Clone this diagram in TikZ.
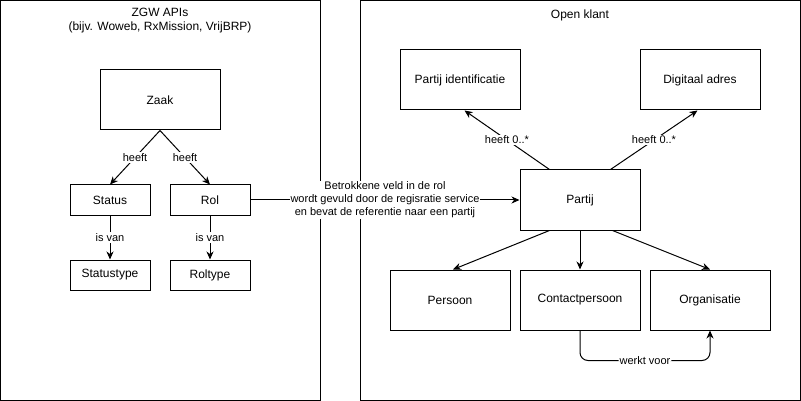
\documentclass[tikz,border=0pt]{standalone}
\usepackage{fontspec}
\setmainfont{Liberation Sans}
\usetikzlibrary{arrows, arrows.meta, positioning}
\tikzstyle{frameNode} = [rectangle, draw=black, line width=1pt, minimum width=320pt, minimum height=400pt, inner sep=0pt]
\tikzstyle{recNode} = [rectangle, minimum width=120pt, minimum height=60pt, text centered, draw=black, line width=1pt, inner sep=0pt, font=\fontsize{12}{14}\selectfont]
\tikzstyle{recNodeS} = [recNode, minimum width=80pt, minimum height=30pt]
\tikzstyle{titleNode} = [align=center, inner sep=0pt, font=\fontsize{12}{14}\selectfont]
\tikzstyle{lblNode} = [fill=white, inner sep=1pt, align=center, font=\fontsize{11}{13}\selectfont]
\tikzstyle{arrow} = [line width=1pt,->,>={Stealth[length=8pt,width=7pt,inset=2.5pt]},draw=black]

\begin{document}
\begin{tikzpicture}[x=1pt, y=-1pt]
        \useasboundingbox (0,0) rectangle (801,401);
        % containers
        \node (zgw) [frameNode] at (160.5,200.5) {};
        \node (openklant) [frameNode, minimum width=440pt] at (580.5,200.5) {};
        \node (zgwTitle) [titleNode, anchor=north] at (160,8) {ZGW APIs\\(bijv. Woweb, RxMission, VrijBRP)};
        \node (okTitle) [titleNode] at (580,15) {Open klant};

        % ZGW side
        \node (zaak) [recNode] at (160,100) {Zaak};
        \node (status) [recNodeS] at (110,200) {Status};
        \node (rol) [recNodeS] at (210,200) {Rol};
        \node (statustype) [recNodeS] at (110,275) {Statustype};
        \node (roltype) [recNodeS] at (210,275) {Roltype};

        % Open klant side
        \node (partij) [recNode] at (580,200) {Partij};
        \node (partijid) [recNode] at (460,80) {Partij identificatie};
        \node (adres) [recNode] at (700,80) {Digitaal adres};
        \node (persoon) [recNode] at (450,300) {Persoon};
        \node (contact) [recNode] at (580,300) {Contactpersoon};
        \node (organisatie) [recNode] at (710,300) {Organisatie};

        \draw [arrow] (zaak.south) -- node[lblNode] {heeft} (status.north);
        \draw [arrow] (zaak.south) -- node[lblNode] {heeft} (rol.north);
        \draw [arrow] (status) -- node[lblNode] {is van} (statustype);
        \draw [arrow] (rol) -- node[lblNode] {is van} (roltype);
        \draw [arrow] (rol.east) -- node[lblNode] {Betrokkene veld in de rol\\wordt gevuld door de regisratie service\\en bevat de referentie naar een partij} (partij.west);

        \draw [arrow] ([xshift=30pt]partij.north west) -- node[lblNode] {heeft 0..*} ([xshift=65pt]partijid.south west);
        \draw [arrow] ([xshift=-30pt]partij.north east) -- node[lblNode] {heeft 0..*} ([xshift=-63pt]adres.south east);
        \draw [arrow] ([xshift=30pt]partij.south west) -- ([xshift=3pt]persoon.north);
        \draw [arrow] (partij.south) -- (contact.north);
        \draw [arrow] ([xshift=-28pt]partij.south east) -- (organisatie.north);
        \draw [arrow, rounded corners=8pt] (contact.south) -- ++(0,30) -| node[lblNode, pos=0.25] {werkt voor} (organisatie.south);
    \end{tikzpicture}
\end{document}
